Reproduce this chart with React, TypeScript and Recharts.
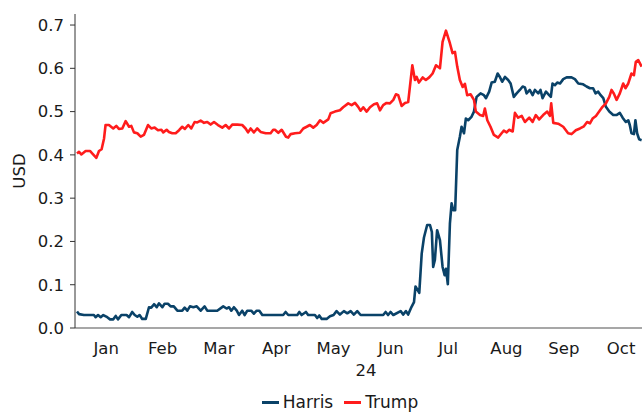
import React from "react";
import { LineChart, Line, XAxis, YAxis, Legend } from "recharts";

// Days since 2024-01-01
const harrisDays = [
  0, 1.1, 3.7, 9, 9.9, 11.2, 12.6, 14, 16.1, 17.6, 19.3, 20.6, 21.8, 23.6, 26.4, 27.7, 29.4, 30.7, 32.1, 33.3,
  34.7, 36.6, 38.3, 39.5, 41, 42.4, 43.6, 45.4, 46.6, 48.4, 49.8, 51.5, 53.4, 56, 57.3, 58.7, 60.1, 61.9, 63.7,
  65.8, 67.9, 69.3, 74.6, 77.8, 79.6, 80.9, 82.1, 83.5, 85, 86.2, 87.9, 89.2, 90.6, 92.7, 94.1, 95.6, 97, 98.6,
  109.7, 111, 112.4, 117.2, 118.3, 119.5, 121.8, 123, 126.6, 127.8, 128.9, 130.2, 132.8, 134.6, 136.5, 138.1,
  139.9, 142, 143.8, 145.6, 147.3, 149.1, 150.9, 162.9, 164.2, 165.5, 166.8, 168.3, 172.2, 173.5, 175, 176.2,
  178, 179.3, 180.1, 182.1, 183.4, 184.6, 186.3, 187.8, 188.8, 189.5, 190.4, 191.6, 193.1, 194.5, 195.6, 196.3,
  197.3, 198.4, 199.3, 200.2, 201.2, 202.3, 203.7, 204.6, 205.9, 206.9, 208.1, 209.9, 211.2, 212.6, 214.7,
  216.5, 217.6, 219.3, 220.6, 222.3, 223.8, 225, 226.2, 227.7, 229.4, 230.7, 232.4, 233.9, 235.6, 237.1, 238.3,
  239.2, 240.9, 242.4, 243.6, 245.4, 246.6, 247.7, 249.5, 251.2, 252.1, 253, 254.3, 255.5, 257, 258.7, 260.5,
  263.1, 264.9, 266.7, 269.3, 271.1, 272.9, 274.6, 275.9, 277.3, 278.6, 280, 281.4, 283.2, 285.3, 287, 288.8,
  290.3, 292, 293.3, 294.1, 295, 296.3, 297.1, 298, 299.1, 300.4,
];
const harrisValues = [
  0.038, 0.032, 0.03, 0.03, 0.025, 0.03, 0.025, 0.03, 0.025, 0.02, 0.02, 0.028, 0.02, 0.03, 0.03, 0.025, 0.037,
  0.03, 0.026, 0.03, 0.021, 0.021, 0.048, 0.047, 0.055, 0.048, 0.057, 0.048, 0.056, 0.056, 0.05, 0.05, 0.04,
  0.04, 0.047, 0.04, 0.05, 0.048, 0.05, 0.04, 0.05, 0.04, 0.04, 0.05, 0.045, 0.048, 0.04, 0.048, 0.04, 0.03,
  0.04, 0.03, 0.04, 0.04, 0.033, 0.04, 0.04, 0.03, 0.03, 0.037, 0.03, 0.03, 0.037, 0.03, 0.037, 0.03, 0.03,
  0.023, 0.029, 0.021, 0.021, 0.027, 0.03, 0.039, 0.031, 0.039, 0.034, 0.039, 0.031, 0.039, 0.03, 0.03, 0.037,
  0.03, 0.037, 0.03, 0.039, 0.031, 0.039, 0.031, 0.049, 0.06, 0.096, 0.081, 0.172, 0.209, 0.238, 0.238, 0.222,
  0.141, 0.157, 0.226, 0.203, 0.141, 0.122, 0.137, 0.101, 0.241, 0.288, 0.272, 0.272, 0.411, 0.442, 0.465,
  0.45, 0.484, 0.48, 0.488, 0.5, 0.534, 0.542, 0.538, 0.531, 0.546, 0.567, 0.569, 0.588, 0.58, 0.569, 0.58,
  0.573, 0.565, 0.534, 0.542, 0.55, 0.558, 0.556, 0.542, 0.55, 0.538, 0.55, 0.542, 0.55, 0.531, 0.546, 0.538,
  0.534, 0.565, 0.561, 0.567, 0.565, 0.575, 0.579, 0.579, 0.575, 0.565, 0.563, 0.558, 0.554, 0.554, 0.542,
  0.546, 0.538, 0.531, 0.511, 0.5, 0.492, 0.492, 0.497, 0.486, 0.476, 0.48, 0.469, 0.45, 0.448, 0.48, 0.45,
  0.436, 0.434,
];

const trumpDays = [
  0, 1.1, 2.3, 4.6, 6.9, 8.2, 10.3, 11.7, 13.1, 14.4, 15.2, 17, 19.3, 20.9, 22.3, 24.1, 25.9, 27.7, 28.9, 30.3,
  32.1, 33.9, 35.6, 37.8, 39.5, 41.3, 43.1, 44.9, 45.9, 47.7, 48.9, 50.7, 52.5, 54.3, 56, 57.4, 59.2, 60.8,
  62.6, 64, 65.8, 67.6, 69.3, 71.1, 72.9, 75, 77.3, 79.1, 80.9, 82.6, 85.3, 87.9, 89.7, 91, 92.4, 94.1, 95.9,
  97.7, 100.4, 103, 104.4, 105.3, 107.1, 108.9, 111.2, 112.4, 113.7, 116, 118.6, 120.4, 122.2, 123.9, 125.7,
  127.5, 129.3, 131, 133.7, 134.9, 137.2, 139.9, 141.6, 144.3, 146.1, 147.9, 149.6, 150.9, 152.3, 154.1,
  155.9, 158, 159.7, 161.2, 162.9, 164.7, 166.5, 168.3, 169.7, 170.9, 172.7, 174.5, 176.2, 178.4, 179.8,
  180.7, 181.9, 183.9, 185.6, 187.4, 189.2, 191, 193.1, 194.5, 196.3, 198.4, 199.8, 201.1, 202.3, 203.7,
  205.2, 206.4, 207.6, 209.4, 211.2, 212.2, 214.4, 216.1, 217, 218.3, 220, 221.8, 224.1, 225.9, 227.1, 228.6,
  229.9, 231.8, 233, 234.7, 236.6, 238.3, 240.6, 242.4, 244.1, 245.9, 248, 250.2, 251.6, 252.3, 253.4, 256,
  258.7, 261.3, 263.1, 265.4, 267.6, 269.7, 271.4, 272.9, 274.3, 276.1, 277.8, 279.6, 281.4, 283.2, 284.4,
  285.6, 287.1, 288.8, 290.6, 291.8, 293.3, 295, 296.3, 297.3, 298.6, 300.4,
];
const trumpValues = [
  0.403, 0.407, 0.401, 0.409, 0.409, 0.403, 0.393, 0.409, 0.413, 0.438, 0.469, 0.469, 0.461, 0.467, 0.46,
  0.461, 0.478, 0.465, 0.467, 0.452, 0.45, 0.442, 0.446, 0.469, 0.461, 0.463, 0.457, 0.458, 0.452, 0.458,
  0.453, 0.45, 0.45, 0.457, 0.465, 0.46, 0.469, 0.461, 0.476, 0.475, 0.479, 0.474, 0.476, 0.47, 0.476, 0.469,
  0.463, 0.469, 0.461, 0.47, 0.47, 0.469, 0.461, 0.452, 0.461, 0.452, 0.461, 0.453, 0.45, 0.45, 0.458, 0.458,
  0.451, 0.458, 0.442, 0.44, 0.448, 0.45, 0.451, 0.461, 0.465, 0.469, 0.463, 0.469, 0.48, 0.474, 0.482, 0.496,
  0.5, 0.503, 0.51, 0.519, 0.515, 0.52, 0.511, 0.502, 0.51, 0.5, 0.51, 0.517, 0.519, 0.503, 0.515, 0.52, 0.519,
  0.527, 0.54, 0.538, 0.513, 0.52, 0.522, 0.607, 0.573, 0.58, 0.567, 0.579, 0.573, 0.579, 0.588, 0.607, 0.6,
  0.661, 0.687, 0.658, 0.635, 0.638, 0.604, 0.573, 0.557, 0.564, 0.538, 0.54, 0.527, 0.5, 0.492, 0.49, 0.507,
  0.48, 0.465, 0.446, 0.44, 0.45, 0.456, 0.452, 0.458, 0.454, 0.497, 0.486, 0.49, 0.476, 0.486, 0.476, 0.492,
  0.482, 0.492, 0.5, 0.49, 0.519, 0.474, 0.472, 0.465, 0.45, 0.448, 0.457, 0.461, 0.466, 0.476, 0.473, 0.484,
  0.49, 0.5, 0.511, 0.519, 0.534, 0.55, 0.542, 0.527, 0.542, 0.565, 0.554, 0.565, 0.588, 0.584, 0.615, 0.619,
  0.604,
];

const monthStarts = [0, 31, 60, 91, 121, 152, 182, 213, 244, 274];
const monthMids = [15.5, 45.5, 75.5, 106, 136.5, 167, 197.5, 228.5, 259, 289.5];
const monthLabels = ["Jan", "Feb", "Mar", "Apr", "May", "Jun", "Jul", "Aug", "Sep", "Oct"];
const yTicks = [0, 0.1, 0.2, 0.3, 0.4, 0.5, 0.6, 0.7];
const yearLabel = "24";

const harrisData = harrisDays.map((d, i) => ({ day: d, v: harrisValues[i] }));
const trumpData = trumpDays.map((d, i) => ({ day: d, v: trumpValues[i] }));

const FONT = "'DejaVu Sans', Verdana, sans-serif";
const FS = 16.5;
const X_DOMAIN: [number, number] = [-1.06, 300.6];

function LegendContent(props: any) {
  const payload = props.payload || [];
  return (
    <div
      style={{
        display: "flex",
        justifyContent: "center",
        alignItems: "center",
        height: 34,
        paddingTop: 14,
        paddingLeft: 38,
        boxSizing: "border-box",
        fontFamily: FONT,
        fontSize: 17,
        color: "#1a1a1a",
      }}
    >
      {payload.map((p: any, i: number) => (
        <div key={i} style={{ display: "flex", alignItems: "center", marginRight: i === payload.length - 1 ? 0 : 11 }}>
          <span style={{ display: "inline-block", width: 17, height: 3, background: p.color, marginRight: 4 }} />
          <span style={{ lineHeight: "18px" }}>{p.value}</span>
        </div>
      ))}
    </div>
  );
}

export default function App() {
  return (
    <div style={{ position: "absolute", left: 0, top: 0, width: 642, height: 412, background: "#fff" }}>
      <LineChart width={642} height={412} margin={{ top: 14, right: 0, bottom: 0, left: 0 }} style={{ fontFamily: FONT }}>
        <XAxis
          xAxisId="a"
          type="number"
          dataKey="day"
          domain={X_DOMAIN}
          allowDataOverflow
          ticks={monthStarts}
          tick={false}
          tickSize={4}
          height={5}
          axisLine={{ stroke: "#8a8a8a", strokeWidth: 1.5 }}
          tickLine={{ stroke: "#8a8a8a" }}
        />
        <XAxis
          xAxisId="b"
          type="number"
          dataKey="day"
          domain={X_DOMAIN}
          allowDataOverflow
          ticks={monthMids}
          interval={0}
          tickFormatter={(v: number) => monthLabels[monthMids.indexOf(v)] ?? ""}
          tickLine={false}
          axisLine={false}
          tickSize={0}
          tickMargin={9}
          height={45}
          tick={{ fill: "#1a1a1a", fontSize: FS, fontFamily: FONT }}
          label={{ value: yearLabel, position: "insideBottom", offset: 2, dx: 7.5, fill: "#1a1a1a", fontSize: FS, fontFamily: FONT }}
        />
        <YAxis
          type="number"
          domain={[0, 0.7255]}
          allowDataOverflow
          ticks={yTicks}
          interval={0}
          tickFormatter={(v: number) => v.toFixed(1)}
          width={75}
          tickSize={5}
          tickMargin={6}
          axisLine={{ stroke: "#333" }}
          tickLine={{ stroke: "#333" }}
          tick={{ fill: "#1a1a1a", fontSize: FS, fontFamily: FONT }}
          label={{ value: "USD", angle: -90, position: "center", dx: -18.5, fill: "#1a1a1a", fontSize: FS, fontFamily: FONT }}
        />
        <Legend verticalAlign="bottom" align="center" content={<LegendContent />} />
        <Line
          xAxisId="a"
          data={harrisData}
          dataKey="v"
          name="Harris"
          type="linear"
          stroke="#0a4268"
          strokeWidth={2.6}
          dot={false}
          activeDot={false}
          isAnimationActive={false}
          strokeLinejoin="round"
        />
        <Line
          xAxisId="a"
          data={trumpData}
          dataKey="v"
          name="Trump"
          type="linear"
          stroke="#ff1c1c"
          strokeWidth={2.6}
          dot={false}
          activeDot={false}
          isAnimationActive={false}
          strokeLinejoin="round"
        />
      </LineChart>
    </div>
  );
}
